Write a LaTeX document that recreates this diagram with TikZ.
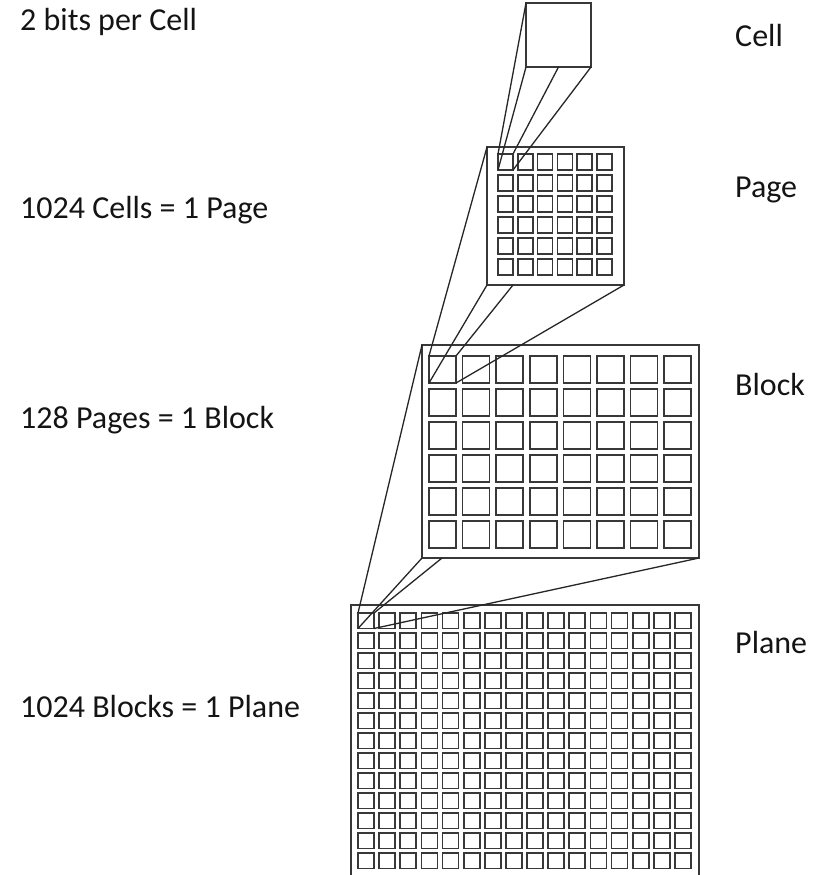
\documentclass[tikz,border=0pt]{standalone}
\usepackage{fontspec}
\setmainfont{Carlito}
\begin{document}
\begin{tikzpicture}[x=1pt,y=-1pt,
  box/.style={draw=black!78, line width=1.4pt, rectangle, inner sep=0pt, outer sep=0pt},
  pcell/.style={draw=black!78, line width=1.7pt, rectangle, inner sep=0pt, outer sep=0pt, minimum width=15pt, minimum height=16pt},
  bcell/.style={draw=black!78, line width=1.7pt, rectangle, inner sep=0pt, outer sep=0pt, minimum width=27pt, minimum height=27pt},
  qcell/.style={draw=black!78, line width=1.7pt, rectangle, inner sep=0pt, outer sep=0pt, minimum width=16pt, minimum height=15.5pt},
  conn/.style={draw=black!85, line width=1.3pt},
  lbl/.style={font=\fontsize{32}{38}\selectfont, text=black!92, inner sep=0pt, anchor=base west}]
\clip (0,0) rectangle (823,875);
\fill[white] (0,0) rectangle (823,875);
% labels left
\node[lbl] (t1) at (20,31) {2 bits per Cell};
\node[lbl] (t2) at (20,218) {1024 Cells = 1 Page};
\node[lbl] (t3) at (20,428) {128 Pages = 1 Block};
\node[lbl] (t4) at (20,717) {1024 Blocks = 1 Plane};
% labels right
\node[lbl] (r1) at (735,47) {Cell};
\node[lbl] (r2) at (735,197) {Page};
\node[lbl] (r3) at (735,395) {Block};
\node[lbl] (r4) at (735,653) {Plane};
% cell
\node[box, minimum width=65pt, minimum height=64pt] (cell) at (558.5,35) {};
% page
\node[box, minimum width=137pt, minimum height=138pt] (page) at (555.5,216) {};
\foreach \i in {1,...,6}{\foreach \j in {1,...,6}{
  \node[pcell] (p-\i-\j) at ({505.5+19.8*(\j-1)},{162+21*(\i-1)}) {};}}
% block
\node[box, minimum width=277pt, minimum height=213pt] (block) at (560.5,451.5) {};
\foreach \i in {1,...,6}{\foreach \j in {1,...,8}{
  \node[bcell] (b-\i-\j) at ({442.5+33.6*(\j-1)},{369.5+33*(\i-1)}) {};}}
% plane
\node[box, minimum width=348pt, minimum height=275pt] (plane) at (525,742.5) {};
\foreach \i in {1,...,13}{\foreach \j in {1,...,16}{
  \node[qcell] (q-\i-\j) at ({366+21.13*(\j-1)},{620.75+20*(\i-1)}) {};}}
% helper points
\coordinate (cellb) at (cell.south);
\coordinate (pageb) at ([xshift=26pt]page.south west);
\coordinate (blockb) at ([xshift=20pt]block.south west);
% connectors cell -> page
\draw[conn] (cell.north west) -- (p-1-1.north west);
\draw[conn] (cell.south west) -- (p-1-1.south west);
\draw[conn] (cellb) -- (p-1-1.north east);
\draw[conn] (cell.south east) -- (p-1-1.south east);
% page -> block
\draw[conn] (page.north west) -- (b-1-1.north west);
\draw[conn] (page.south west) -- (b-1-1.south west);
\draw[conn] (pageb) -- (b-1-1.north east);
\draw[conn] (page.south east) -- (b-1-1.south east);
% block -> plane
\draw[conn] (block.north west) -- (q-1-1.north west);
\draw[conn] (block.south west) -- (q-1-1.south west);
\draw[conn] (blockb) -- (q-1-1.north east);
\draw[conn] (block.south east) -- (q-1-1.south east);
\end{tikzpicture}
\end{document}
